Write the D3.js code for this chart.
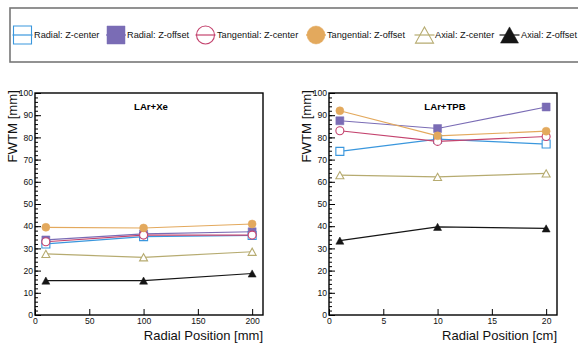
<!DOCTYPE html>
<html><head><meta charset="utf-8">
<script src="https://cdn.jsdelivr.net/npm/d3@7"></script>
<style>body{margin:0;background:#fff}svg{display:block}text{font-family:"Liberation Sans",Arial,Helvetica,sans-serif}</style>
</head><body><svg id="c" width="578" height="345"></svg>
<script>
// ---- data ----
const seriesNames = ["Radial: Z-center","Radial: Z-offset","Tangential: Z-center","Tangential: Z-offset","Axial: Z-center","Axial: Z-offset"];
const xenonX = [10, 100, 200];
const tpbX = [1, 10, 20];
const xenonRadialCenter = [32, 35.3, 35.8];
const xenonRadialOffset = [33.8, 36.5, 37.5];
const xenonTangCenter = [33, 36, 36];
const xenonTangOffset = [39.5, 39.2, 41];
const xenonAxialCenter = [27.5, 26, 28.5];
const xenonAxialOffset = [15.5, 15.5, 18.7];
const tpbRadialCenter = [73.7, 79.2, 77];
const tpbRadialOffset = [87.5, 84, 93.7];
const tpbTangCenter = [83, 78.2, 80.4];
const tpbTangOffset = [92, 80.7, 82.8];
const tpbAxialCenter = [63, 62.2, 63.8];
const tpbAxialOffset = [33.5, 39.7, 39];
const xenonTicks = [0, 50, 100, 150, 200];
const tpbTicks = [0, 5, 10, 15, 20];
const yTicks = [0,10,20,30,40,50,60,70,80,90,100];

// ---- styles ----
const styles = [
  {color:"#3a97dd", shape:"square", filled:false},
  {color:"#7a6cb5", shape:"square", filled:true},
  {color:"#c4436e", shape:"circle", filled:false},
  {color:"#e3a95d", shape:"circle", filled:true},
  {color:"#b6ab70", shape:"triangle", filled:false},
  {color:"#151515", shape:"triangle", filled:true}
];
const svg = d3.select("#c");
const FONT = '"Liberation Sans",Arial,Helvetica,sans-serif';

function symFor(shape, w){
  if(shape==="square") return d3.symbol(d3.symbolSquare, w*w)();
  if(shape==="circle") return d3.symbol(d3.symbolCircle, Math.PI*w*w/4)();
  // triangle with bbox centered
  const h = w*0.9;
  return `M0,${-h/2}L${w/2},${h/2}L${-w/2},${h/2}Z`;
}
function drawMarker(g, st, x, y, w){
  g.append("path").attr("d", symFor(st.shape,w)).attr("transform",`translate(${x},${y})`)
    .attr("fill", st.filled? st.color : "#fff").attr("stroke", st.color).attr("stroke-width", st.filled?0.5:1.1);
}

// ---- legend ----
const legendLayout = {x:10,y:8,h:54,cy:35,markerW:18,
  markerX:[22.5,116,205.5,316,424.5,509.5], textX:[34,127,217,327,435,521]};
svg.append("rect").attr("x",legendLayout.x).attr("y",legendLayout.y).attr("width",600).attr("height",legendLayout.h)
  .attr("fill","#fff").attr("stroke","#777").attr("stroke-width",1.6);
seriesNames.forEach((n,i)=>{
  const st=styles[i], mx=legendLayout.markerX[i], w=legendLayout.markerW;
  svg.append("line").attr("x1",mx-w/2-1).attr("x2",mx+w/2+1).attr("y1",legendLayout.cy).attr("y2",legendLayout.cy)
    .attr("stroke",st.color).attr("stroke-width",1.2);
  const g = svg.append("g");
  if(st.filled){ drawMarker(g, st, mx, legendLayout.cy, w); }
  else {
    g.append("path").attr("d", symFor(st.shape,w)).attr("transform",`translate(${mx},${legendLayout.cy})`)
      .attr("fill","none").attr("stroke",st.color).attr("stroke-width",1.1);
  }
  svg.append("text").attr("x",legendLayout.textX[i]).attr("y",legendLayout.cy+3.3).attr("font-size",9.2).attr("fill","#111").text(n);
});

// ---- panels ----
function panel(opt){
  const {left,right,top,bottom,xmax,xTicks,xs,ys,title,xtitle,ytitleX,minorX} = opt;
  const x = d3.scaleLinear().domain([0,xmax]).range([left,right]);
  const y = d3.scaleLinear().domain([0,100]).range([bottom,top]);
  const g = svg.append("g");
  // y minor ticks
  g.append("g").attr("transform",`translate(${left},0)`)
    .call(d3.axisLeft(y).tickValues(d3.range(0,101,2)).tickSizeInner(-3).tickSizeOuter(0).tickFormat(""))
    .call(a=>a.select(".domain").remove()).selectAll("line").attr("stroke","#000");
  // y major
  const ya = g.append("g").attr("transform",`translate(${left},0)`)
    .call(d3.axisLeft(y).tickValues(yTicks).tickSizeInner(-6).tickSizeOuter(0).tickPadding(2));
  ya.select(".domain").remove();
  ya.selectAll("text").attr("font-size",8.6).attr("font-family",FONT).attr("fill","#111");
  // x major
  const xa = g.append("g").attr("transform",`translate(0,${bottom})`)
    .call(d3.axisBottom(x).tickValues(xTicks).tickSizeInner(-6).tickSizeOuter(0).tickPadding(3));
  xa.select(".domain").remove();
  xa.selectAll("text").attr("font-size",8.6).attr("font-family",FONT).attr("fill","#111");
  // frame
  g.append("rect").attr("x",left).attr("y",top).attr("width",right-left).attr("height",bottom-top)
    .attr("fill","none").attr("stroke","#000").attr("stroke-width",1.4);
  // title
  g.append("text").attr("x",(left+right)/2+2).attr("y",top+17).attr("text-anchor","middle")
    .attr("font-size",9.6).attr("font-weight","bold").text(title);
  // axis titles
  g.append("text").attr("x",right).attr("y",bottom+25).attr("text-anchor","end").attr("font-size",13).attr("fill","#111").text(xtitle);
  g.append("text").attr("transform",`translate(${ytitleX},${top-3}) rotate(-90)`).attr("text-anchor","end")
    .attr("font-size",13.2).attr("fill","#111").text("FWTM [mm]");
  // series
  const line = d3.line().x(d=>x(d[0])).y(d=>y(d[1]));
  ys.forEach((vals,i)=>{
    const pts = xs.map((xv,j)=>[xv,vals[j]]);
    g.append("path").attr("d",line(pts)).attr("fill","none").attr("stroke",styles[i].color).attr("stroke-width",1.2);
  });
  ys.forEach((vals,i)=>{
    xs.forEach((xv,j)=> drawMarker(g, styles[i], x(xv), y(vals[j]), 8));
  });
}

panel({left:35,right:263,top:93,bottom:315,xmax:210,xTicks:xenonTicks,xs:xenonX,
  ys:[xenonRadialCenter,xenonRadialOffset,xenonTangCenter,xenonTangOffset,xenonAxialCenter,xenonAxialOffset],
  title:"LAr+Xe",xtitle:"Radial Position [mm]",ytitleX:17});
panel({left:329,right:557,top:93,bottom:315,xmax:21,xTicks:tpbTicks,xs:tpbX,
  ys:[tpbRadialCenter,tpbRadialOffset,tpbTangCenter,tpbTangOffset,tpbAxialCenter,tpbAxialOffset],
  title:"LAr+TPB",xtitle:"Radial Position [cm]",ytitleX:311});
</script></body></html>
